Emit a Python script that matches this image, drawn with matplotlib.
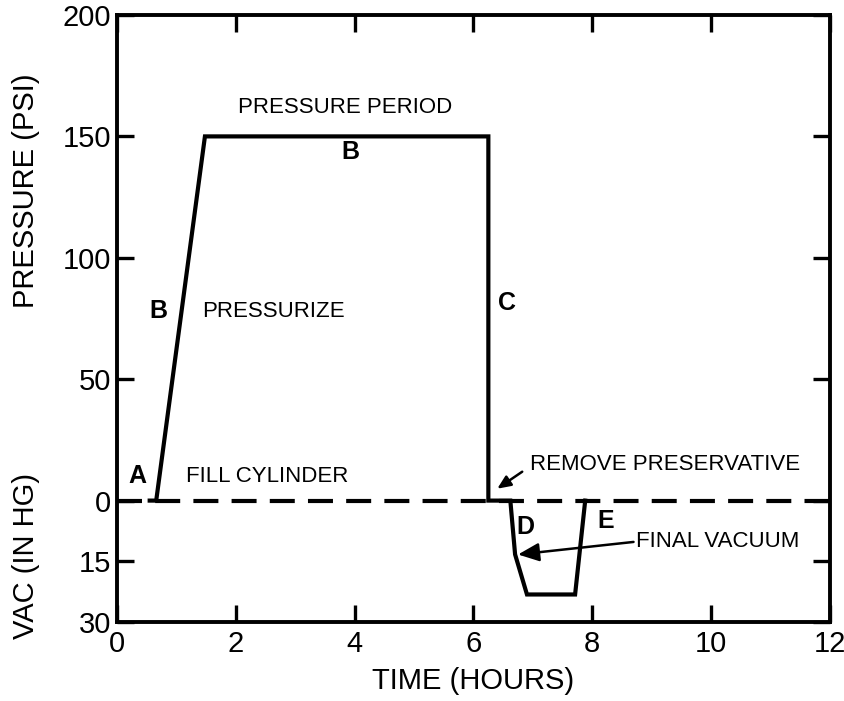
import matplotlib
matplotlib.use("Agg")
import matplotlib.pyplot as plt

plt.rcParams['font.family'] = ['Liberation Sans', 'DejaVu Sans']
plt.rcParams['lines.scale_dashes'] = False

# vacuum (in Hg) is drawn below zero: 30 in Hg takes the same height as 50 psi
VAC_SCALE = 50.0 / 30.0

# treatment cycle: time in hours, pressure in psi (positive) or vacuum in in Hg
hours = [0.55, 0.66, 1.48, 6.25, 6.25, 6.62, 6.70, 6.90, 7.71, 7.88]
psi = [0, 0, 150, 150, 0, 0, None, None, None, 0]
vac_inhg = [None, None, None, None, None, None, 13.3, 23.2, 23.2, None]

x_ticks = [0, 2, 4, 6, 8, 10, 12]
psi_ticks = [200, 150, 100, 50, 0]
vac_ticks = [15, 30]

def to_plot(p, v):
    return p if p is not None else -v * VAC_SCALE

curve = [to_plot(p, v) for p, v in zip(psi, vac_inhg)]

size = 845, 701
dpi = 100.0
fig = plt.figure(figsize=(size[0] / dpi, size[1] / dpi), dpi=dpi, facecolor='white')
ax = fig.add_axes([117 / 845, 1 - 622 / 701, (830 - 117) / 845, (622 - 15) / 701])
ax.set_xlim(0, 12)
ax.set_ylim(-30 * VAC_SCALE, 200)

# zero line
ax.axhline(0, color='black', lw=3.0, dashes=(18, 9.5), zorder=2)
ax.plot(hours, curve, color='black', lw=3.0, solid_joinstyle='miter', zorder=3)

for s in ax.spines.values():
    s.set_linewidth(2.8)

ax.set_xticks(x_ticks)
ax.set_xticklabels([str(t) for t in x_ticks])
yt = psi_ticks + [-v * VAC_SCALE for v in vac_ticks]
ax.set_yticks(yt)
ax.set_yticklabels([str(t) for t in psi_ticks] + [str(v) for v in vac_ticks])
ax.tick_params(direction='in', length=12, width=2.4, labelsize=21,
               top=True, right=True, pad=4)
ax.tick_params(axis='x', pad=6)

ax.set_xlabel('TIME (HOURS)', fontsize=21, labelpad=6)
fig.text(26 / 845, 1 - 191 / 701, 'PRESSURE (PSI)', rotation=90,
         ha='center', va='center', fontsize=21)
fig.text(26 / 845, 1 - 556 / 701, 'VAC (IN HG)', rotation=90,
         ha='center', va='center', fontsize=21)

# stage labels
txt = dict(fontsize=16, va='center')
ax.text(3.84, 162, 'PRESSURE PERIOD', ha='center', **txt)
ax.text(1.43, 78, 'PRESSURIZE', ha='left', **txt)
ax.text(1.16, 10, 'FILL CYLINDER', ha='left', **txt)
ax.text(6.95, 14.8, 'REMOVE PRESERVATIVE', ha='left', **txt)

bold = dict(fontsize=18, va='center', ha='center', fontweight='bold')
ax.text(3.92, 143.6, 'B', **bold)
ax.text(0.69, 78, 'B', **bold)
ax.text(6.57, 81.5, 'C', **bold)
ax.text(0.34, 10, 'A', **bold)
ax.text(6.87, -10.7, 'D', **bold)
ax.text(8.22, -8.6, 'E', **bold)

arrow = dict(arrowstyle='-|>,head_length=0.8,head_width=0.35', color='black', lw=1.8,
             shrinkA=0, shrinkB=0)
ax.annotate('', xy=(6.40, 4.9), xytext=(6.82, 11.9), arrowprops=arrow)
ax.annotate('FINAL VACUUM', xy=(6.75, -22.2), xytext=(8.74, -16.9),
            fontsize=16, va='center', ha='left',
            arrowprops=dict(arrow, relpos=(0, 0.5)))

fig.savefig('out.png', dpi=dpi)
